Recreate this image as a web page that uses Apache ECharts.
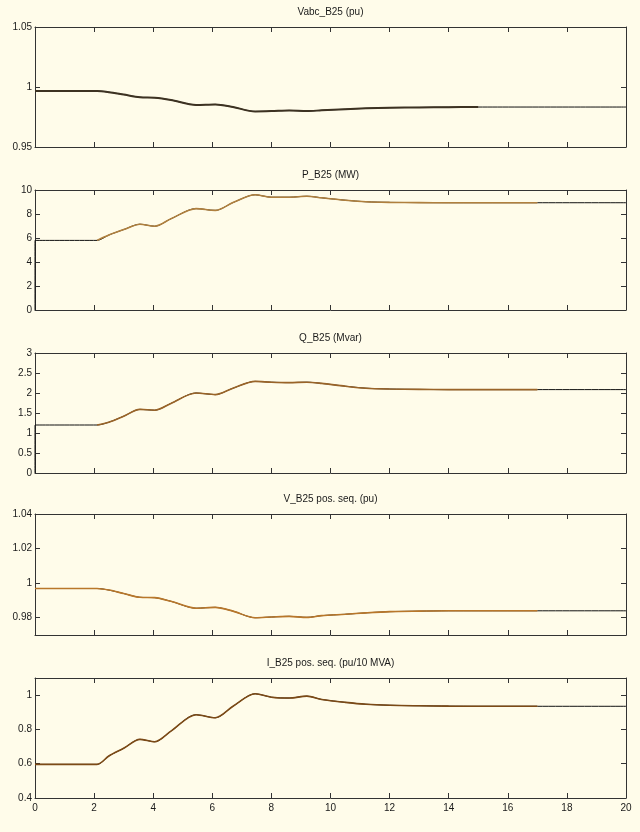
<!DOCTYPE html>
<html>
<head>
<meta charset="utf-8">
<script src="https://cdn.jsdelivr.net/npm/echarts@6/dist/echarts.min.js"></script>
<style>
  html, body { margin: 0; padding: 0; background: #fffcea; }
  #chart { width: 640px; height: 832px; }
</style>
</head>
<body>
<div id="chart"></div>
<script>
// Simulation time samples (s) for the measured quantities at bus B25
const TIME = [0, 2.1, 2.5, 3.0, 3.55, 4.05, 4.6, 5.45, 6.1, 6.7, 7.45, 8.0, 8.6, 9.2, 9.7, 10.5, 11.2, 12, 13, 14, 15, 17];
const T_END = 20;
const X_TICKS = [0, 2, 4, 6, 8, 10, 12, 14, 16, 18, 20];

// Vabc_B25 (pu) - recorded up to t = 15 s
const VABC = [0.9967, 0.9967, 0.9957, 0.9937, 0.9915, 0.9911, 0.9892, 0.9851, 0.9855, 0.9833, 0.9796, 0.9799, 0.9805, 0.9799, 0.9806, 0.9815, 0.9822, 0.9827, 0.9830, 0.9832, 0.9833];
// P_B25 (MW)
const P_MW = [5.8, 5.8, 6.25, 6.7, 7.15, 6.98, 7.6, 8.45, 8.3, 8.95, 9.6, 9.4, 9.4, 9.48, 9.35, 9.15, 9.02, 8.97, 8.95, 8.94, 8.94, 8.94];
// Q_B25 (Mvar)
const Q_MVAR = [1.2, 1.2, 1.27, 1.42, 1.59, 1.57, 1.74, 2.0, 1.96, 2.12, 2.29, 2.27, 2.26, 2.27, 2.24, 2.17, 2.12, 2.10, 2.09, 2.085, 2.085, 2.085];
// V_B25 positive sequence (pu)
const V_POS = [0.9969, 0.9969, 0.9960, 0.9940, 0.9918, 0.9916, 0.9895, 0.9855, 0.9860, 0.9838, 0.9800, 0.9804, 0.9808, 0.9802, 0.9812, 0.9820, 0.9828, 0.9835, 0.9838, 0.9840, 0.9840, 0.9840];
// I_B25 positive sequence (pu/10 MVA)
const I_POS = [0.596, 0.596, 0.645, 0.69, 0.742, 0.728, 0.79, 0.886, 0.868, 0.935, 1.008, 0.988, 0.983, 0.994, 0.975, 0.958, 0.947, 0.941, 0.938, 0.936, 0.935, 0.935];

// Y-axis tick labels per panel
const VABC_TICKS = [0.95, 1, 1.05];
const P_TICKS = [0, 2, 4, 6, 8, 10];
const Q_TICKS = [0, 0.5, 1, 1.5, 2, 2.5, 3];
const VPOS_TICKS = [0.98, 1, 1.02, 1.04];
const I_TICKS = [0.4, 0.6, 0.8, 1];

const TITLES = ['Vabc_B25 (pu)', 'P_B25 (MW)', 'Q_B25 (Mvar)', 'V_B25 pos. seq. (pu)', 'I_B25 pos. seq. (pu/10 MVA)'];

const panels = [
  { title: TITLES[0], values: VABC,   ticks: VABC_TICKS, min: 0.95, max: 1.05, top: 27,  h: 120, fromZero: false, colorStart: 0, color: '#3d3222', width: 2 },
  { title: TITLES[1], values: P_MW,   ticks: P_TICKS,    min: 0,    max: 10,   top: 190, h: 120, fromZero: true,  colorStart: 1, color: '#b0803e', width: 1.6 },
  { title: TITLES[2], values: Q_MVAR, ticks: Q_TICKS,    min: 0,    max: 3,    top: 353, h: 120, fromZero: true,  colorStart: 1, color: '#9a6428', width: 1.6 },
  { title: TITLES[3], values: V_POS,  ticks: VPOS_TICKS, min: 0.97, max: 1.04, top: 514, h: 121, fromZero: false, colorStart: 0, color: '#b9772a', width: 1.6 },
  { title: TITLES[4], values: I_POS,  ticks: I_TICKS,    min: 0.4,  max: 1.1,  top: 678, h: 120, fromZero: false, colorStart: 0, color: '#7c4a16', width: 1.6 }
];

const GRID_LEFT = 35;
const GRID_WIDTH = 591;
const FONT = 'Liberation Sans, Arial, sans-serif';
const INK = '#333333';

const grid = [], xAxis = [], yAxis = [], series = [], title = [];
const fmt = v => String(+(+v).toFixed(3));

panels.forEach((p, i) => {
  grid.push({ left: GRID_LEFT, width: GRID_WIDTH, top: p.top, height: p.h, containLabel: false });
  title.push({
    text: p.title, left: GRID_LEFT + GRID_WIDTH / 2, top: p.top - 20, textAlign: 'center', padding: 0,
    textStyle: { fontSize: 10, fontWeight: 'normal', color: '#1a1a1a', fontFamily: FONT }
  });
  const last = i === panels.length - 1;
  ['bottom', 'top'].forEach(pos => {
    xAxis.push({
      type: 'value', gridIndex: i, position: pos, min: 0, max: T_END, interval: 2,
      axisLine: { show: true, onZero: false, lineStyle: { color: INK, width: 1 } },
      axisTick: { show: true, inside: true, length: 5, lineStyle: { color: INK } },
      axisLabel: { show: last && pos === 'bottom', fontSize: 10, color: '#1a1a1a', fontFamily: FONT, margin: 5,
        customValues: X_TICKS },
      splitLine: { show: false }
    });
  });
  ['left', 'right'].forEach(pos => {
    yAxis.push({
      type: 'value', gridIndex: i, position: pos, min: p.min, max: p.max,
      axisLine: { show: true, onZero: false, lineStyle: { color: INK, width: 1 } },
      axisTick: { show: true, inside: true, length: 5, lineStyle: { color: INK }, customValues: p.ticks },
      axisLabel: { show: pos === 'left', fontSize: 10, color: '#1a1a1a', fontFamily: FONT, margin: 3,
        customValues: p.ticks, formatter: fmt },
      splitLine: { show: false }
    });
  });

  const pts = p.values.map((v, k) => [TIME[k], v]);
  const black = (p.fromZero ? [[0, 0]] : []).concat(pts, [[T_END, p.values[p.values.length - 1]]]);
  series.push({
    type: 'line', xAxisIndex: 2 * i, yAxisIndex: 2 * i, data: black, symbol: 'none',
    smooth: 0.3, lineStyle: { color: '#111111', width: 1 }, z: 2
  });
  series.push({
    type: 'line', xAxisIndex: 2 * i, yAxisIndex: 2 * i, data: pts.slice(p.colorStart), symbol: 'none',
    smooth: 0.3, lineStyle: { color: p.color, width: p.width }, z: 3
  });
});

const chart = echarts.init(document.getElementById('chart'), null, { renderer: 'canvas' });
chart.setOption({
  backgroundColor: '#fffcea',
  animation: false,
  title, grid, xAxis, yAxis, series
});
</script>
</body>
</html>
